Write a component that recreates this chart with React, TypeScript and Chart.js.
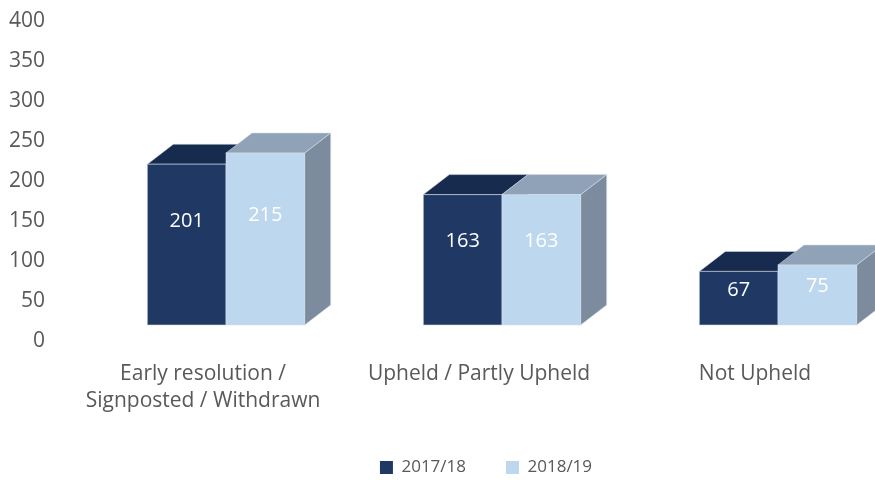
import React, { useEffect, useRef } from "react";
import { Chart, registerables } from "chart.js";

Chart.register(...registerables);

const categories: (string | string[])[] = [
  ["Early resolution /", "Signposted / Withdrawn"],
  "Upheld / Partly Upheld",
  "Not Upheld",
];
const seriesNames = ["2017/18", "2018/19"];
const values2017 = [201, 163, 67];
const values2018 = [215, 163, 75];
const yMin = 0;
const yMax = 400;
const yStep = 50;

const FRONT = ["#203864", "#BDD7EE"];
const TOP = ["#172B4F", "#8FA2B7"];
const SIDE = ["#14264A", "#7C8C9E"];
const DX = 26;
const DY = 20;
const FONT = "'Open Sans', 'DejaVu Sans', sans-serif";

const bar3d = {
  id: "bar3d",
  beforeDatasetsDraw(chart: any) {
    const ctx = chart.ctx;
    const metas = chart.data.datasets.map((_: any, i: number) => chart.getDatasetMeta(i));
    const n = chart.data.labels.length;
    ctx.save();
    for (let j = 0; j < n; j++) {
      metas.forEach((meta: any, di: number) => {
        const el = meta.data[j];
        if (!el) return;
        const { x, y, width, base } = el.getProps(["x", "y", "width", "base"], true);
        const l = x - width / 2;
        const r = x + width / 2;
        ctx.lineWidth = 1;
        ctx.strokeStyle = "rgba(215,222,230,0.55)";
        // side face
        ctx.fillStyle = SIDE[di];
        ctx.beginPath();
        ctx.moveTo(r, y);
        ctx.lineTo(r + DX, y - DY);
        ctx.lineTo(r + DX, base - DY);
        ctx.lineTo(r, base);
        ctx.closePath();
        ctx.fill();
        ctx.stroke();
        // top face
        ctx.fillStyle = TOP[di];
        ctx.beginPath();
        ctx.moveTo(l, y);
        ctx.lineTo(l + DX, y - DY);
        ctx.lineTo(r + DX, y - DY);
        ctx.lineTo(r, y);
        ctx.closePath();
        ctx.fill();
        ctx.stroke();
        // front face
        ctx.fillStyle = FRONT[di];
        ctx.fillRect(l, y, width, base - y);
        ctx.strokeRect(l, y, width, base - y);
      });
    }
    // value labels
    ctx.fillStyle = "#FFFFFF";
    ctx.font = `20px ${FONT}`;
    ctx.textAlign = "center";
    ctx.textBaseline = "middle";
    metas.forEach((meta: any, di: number) => {
      const data = chart.data.datasets[di].data;
      meta.data.forEach((el: any, j: number) => {
        const { x, y, base } = el.getProps(["x", "y", "base"], true);
        const f = di === 0 ? 0.355 : 0.36;
        ctx.fillText(String(data[j]), x, y + (base - y) * f);
      });
    });
    ctx.restore();
    return false;
  },
};

export default function App() {
  const ref = useRef<HTMLCanvasElement | null>(null);
  useEffect(() => {
    if (!ref.current) return;
    const chart = new Chart(ref.current, {
      type: "bar",
      data: {
        labels: categories,
        datasets: [
          {
            label: seriesNames[0],
            data: values2017,
            backgroundColor: FRONT[0],
            borderWidth: 0,
            yAxisID: "y2",
          },
          {
            label: seriesNames[1],
            data: values2018,
            backgroundColor: FRONT[1],
            borderWidth: 0,
            yAxisID: "y2",
          },
        ],
      },
      options: {
        responsive: false,
        animation: false,
        devicePixelRatio: 1,
        datasets: { bar: { categoryPercentage: 0.57, barPercentage: 1 } },
        layout: { padding: { top: 21, bottom: -4, left: 0, right: 0 } },
        plugins: {
          title: { display: false },
          tooltip: { enabled: false },
          legend: {
            position: "bottom",
            labels: {
              color: "#595959",
              font: { family: FONT, size: 17 },
              boxWidth: 13,
              boxHeight: 13,
              padding: 40,
            },
          },
        },
        scales: {
          x: {
            type: "category",
            grid: { display: false, drawTicks: false },
            border: { display: false },
            ticks: {
              color: "#595959",
              font: { family: FONT, size: 21, lineHeight: 1.27 },
              labelOffset: -23,
              padding: 20,
              maxRotation: 0,
              autoSkip: false,
            },
            afterFit(s: any) {
              s.height = 78;
            },
          },
          y: {
            position: "left",
            min: yMin,
            max: yMax,
            grid: { display: false, drawTicks: false },
            border: { display: false },
            ticks: {
              stepSize: yStep,
              color: "#595959",
              font: { family: FONT, size: 21 },
              padding: 43,
            },
            afterFit(s: any) {
              s.width = 88;
              s.paddingTop = 0;
              s.paddingBottom = 0;
            },
          },
          y2: {
            position: "right",
            min: -20,
            max: 380,
            grid: { display: false, drawTicks: false },
            border: { display: false },
            ticks: { display: false },
            afterFit(s: any) {
              s.width = 56;
              s.paddingTop = 0;
              s.paddingBottom = 0;
            },
          },
        },
      },
      plugins: [bar3d],
    });
    return () => chart.destroy();
  }, []);
  return (
    <div
      style={{
        position: "fixed",
        left: 0,
        top: 0,
        width: 875,
        height: 482,
        overflow: "hidden",
        background: "#fff",
      }}
    >
      <canvas ref={ref} width={972} height={482} style={{ width: 972, height: 482, display: "block" }} />
    </div>
  );
}
